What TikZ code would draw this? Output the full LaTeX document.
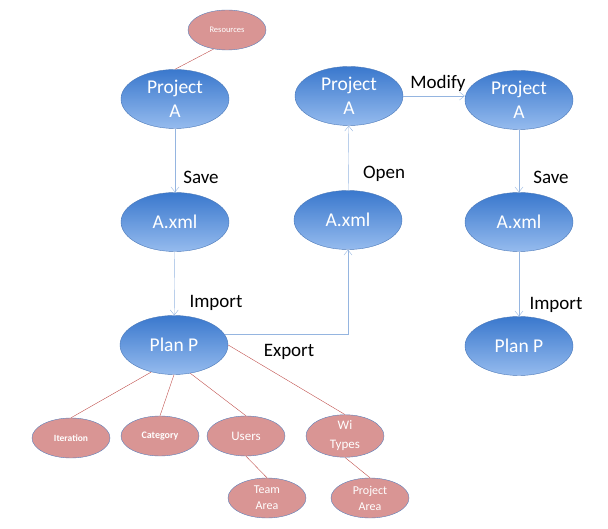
\documentclass[tikz,border=0pt]{standalone}
\usepackage{fontspec}
\setmainfont{Carlito}
\usepackage{xcolor}
\usetikzlibrary{arrows.meta,shapes.geometric}

\definecolor{bluetop}{HTML}{3A78CD}
\definecolor{bluebot}{HTML}{95BBEE}
\definecolor{blueline}{HTML}{4A78B8}
\definecolor{linkblue}{HTML}{95B5E0}
\definecolor{rosefill}{HTML}{D99594}
\definecolor{rosebord}{HTML}{5A7FBA}
\definecolor{redline}{HTML}{C0504D}

\begin{document}
\begin{tikzpicture}[
    x=1pt, y=-1pt,
    proj/.style={ellipse, draw=blueline, thin, top color=bluetop, bottom color=bluebot, minimum width=108pt, minimum height=59pt, inner sep=0pt, align=center, text=white, font=\fontsize{19.5}{24}\selectfont},
    leaf/.style={ellipse, draw=rosebord, thin, fill=rosefill, minimum width=78pt, minimum height=40pt, inner sep=0pt, align=center, text=white},
    lbl/.style={font=\fontsize{19}{22}\selectfont, text=black},
    arr/.style={-{Straight Barb[length=5pt,width=8pt]}, draw=linkblue, thin},
    tie/.style={draw=redline, thin}
]
\useasboundingbox (0,0) rectangle (608,529);

% left column
\node[leaf, font=\fontsize{8.5}{10}\selectfont] (res) at (227,30) {Resources};
\node[proj] (projL) at (175,99) {Project\\A};
\node[proj] (xmlL) at (175,222) {A.xml};
\node[proj] (planL) at (174,345) {Plan P};

% middle column
\node[proj] (projM) at (349,96) {Project\\A};
\node[proj] (xmlM) at (348,220) {A.xml};

% right column
\node[proj] (projR) at (519,100) {Project\\A};
\node[proj] (xmlR) at (519,222) {A.xml};
\node[proj] (planR) at (519,346) {Plan P};

% plan contents
\node[leaf, font=\bfseries\fontsize{9.5}{11}\selectfont] (iter) at (71,438) {Iteration};
\node[leaf, font=\bfseries\fontsize{10}{11}\selectfont] (cat) at (160,436) {Category};
\node[leaf, font=\fontsize{13}{15}\selectfont] (users) at (246,436) {Users};
\node[leaf, font=\fontsize{13}{19}\selectfont] (wit) at (345,436) {Wi\\Types};
\node[leaf, font=\fontsize{12}{16}\selectfont] (team) at (267,498) {Team\\Area};
\node[leaf, font=\fontsize{12}{16}\selectfont] (parea) at (370,498) {Project\\Area};

% labels
\node[lbl] (save1) at (201,177) {Save};
\node[lbl] (imp1) at (216,303) {Import};
\node[lbl] (exp) at (289,352) {Export};
\node[lbl] (open) at (384,174) {Open};
\node[lbl] (mod) at (438,83) {Modify};
\node[lbl] (save2) at (551,177) {Save};
\node[lbl] (imp2) at (556,305) {Import};

% flow
\draw[arr] (projL) -- (xmlL);
\draw[arr] (xmlL) -- (planL);
\draw[arr] (planL.12) -| (xmlM.south);
\draw[arr] (xmlM) -- (projM);
\draw[arr] (projM.east) -- (projR.west |- projM.east);
\draw[arr] (projR) -- (xmlR);
\draw[arr] (xmlR) -- (planR);

% ties
\draw[tie] (res.235) -- (projL.north);
\draw[tie] (planL.230) -- (iter.north);
\draw[tie] (planL.south) -- (cat.north);
\draw[tie] (planL.300) -- (users.north);
\draw[tie] (planL.east) -- (wit.north);
\draw[tie] (users.south) -- (team.north);
\draw[tie] (wit.south) -- (parea.north);
\end{tikzpicture}
\end{document}
